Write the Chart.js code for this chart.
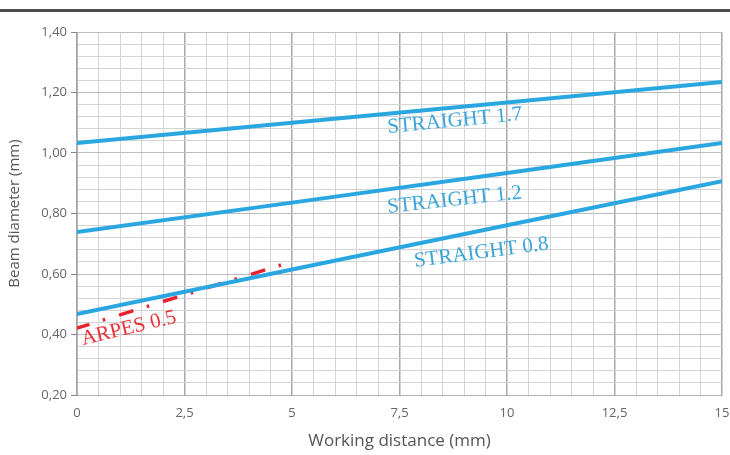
<!DOCTYPE html>
<html>
<head>
<meta charset="utf-8">
<script src="https://cdn.jsdelivr.net/npm/chart.js@4.4.1/dist/chart.umd.min.js"></script>
<style>
  html, body { margin: 0; padding: 0; background: #fff; }
  #wrap { position: relative; width: 730px; height: 455px; }
</style>
</head>
<body>
<div id="wrap"><canvas id="chart" width="730" height="455"></canvas></div>
<script>
"use strict";

// Beam diameter vs working distance, four lens families.
const distances = [0, 5, 10, 15];
const straight17 = [1.033, 1.100, 1.167, 1.235];
const straight12 = [0.739, 0.836, 0.934, 1.033];
const straight08 = [0.468, 0.615, 0.761, 0.907];
const arpesX = [0, 1, 2, 3, 4, 4.82];
const arpesY = [0.421, 0.465, 0.509, 0.553, 0.597, 0.633];

const labels = [
  { text: "STRAIGHT 1.7", x: 7.23, y: 1.066, angle: -5.6, color: "#3aa5d8" },
  { text: "STRAIGHT 1.2", x: 7.23, y: 0.802, angle: -6.2, color: "#3aa5d8" },
  { text: "STRAIGHT 0.8", x: 7.86, y: 0.623, angle: -7.5, color: "#3aa5d8" },
  { text: "ARPES 0.5", x: 0.14, y: 0.365, angle: -13.5, color: "#e8323a" },
];

const BLUE = "#2aa6e0";
const RED = "#e8222c";

function pts(xs, ys) {
  return xs.map((x, i) => ({ x, y: ys[i] }));
}

function comma(v, digits) {
  return v.toFixed(digits).replace(".", ",");
}

const chrome = {
  id: "chrome",
  beforeDraw(chart) {
    const ctx = chart.ctx;
    ctx.save();
    ctx.fillStyle = "#4d4d4d";
    ctx.fillRect(0, 9, chart.width, 3);
    ctx.restore();
  },
  afterDatasetsDraw(chart) {
    const ctx = chart.ctx;
    const xs = chart.scales.x, ys = chart.scales.y;
    ctx.save();
    ctx.font = "21px 'Liberation Serif', 'DejaVu Serif', serif";
    ctx.textBaseline = "alphabetic";
    labels.forEach((l) => {
      ctx.save();
      ctx.translate(xs.getPixelForValue(l.x), ys.getPixelForValue(l.y));
      ctx.rotate(l.angle * Math.PI / 180);
      ctx.fillStyle = l.color;
      ctx.fillText(l.text, 0, 0);
      ctx.restore();
    });
    ctx.restore();
  },
};

function isMajorX(v) { return Math.abs(v / 2.5 - Math.round(v / 2.5)) < 1e-6; }
function isMajorY(v) { return Math.abs(v / 0.2 - Math.round(v / 0.2)) < 1e-6; }

new Chart(document.getElementById("chart"), {
  type: "scatter",
  data: {
    datasets: [
      { label: "STRAIGHT 1.7", data: pts(distances, straight17), showLine: true, borderColor: BLUE,
        borderWidth: 4, pointRadius: 0, tension: 0 },
      { label: "STRAIGHT 1.2", data: pts(distances, straight12), showLine: true, borderColor: BLUE,
        borderWidth: 4, pointRadius: 0, tension: 0 },
      { label: "STRAIGHT 0.8", data: pts(distances, straight08), showLine: true, borderColor: BLUE,
        borderWidth: 4, pointRadius: 0, tension: 0 },
      { label: "ARPES 0.5", data: pts(arpesX, arpesY), showLine: true, borderColor: RED,
        borderWidth: 3.5, borderDash: [15, 14, 2.5, 14.5], borderDashOffset: 2, pointRadius: 0, tension: 0 },
    ],
  },
  options: {
    responsive: false,
    animation: false,
    layout: { padding: { top: 32, right: 8, left: 0, bottom: 0 } },
    plugins: { legend: { display: false }, tooltip: { enabled: false } },
    scales: {
      x: {
        type: "linear", min: 0, max: 15,
        afterFit(s) { s.height = 60; s.paddingRight = 0; s.paddingLeft = 0; },
        ticks: {
          stepSize: 0.5, autoSkip: false, maxRotation: 0, color: "#666", padding: 10,
          font: { family: "'Open Sans', sans-serif", size: 13 },
          callback: (v) => isMajorX(v) ? (Number.isInteger(v) ? String(v) : comma(v, 1)) : "",
        },
        grid: {
          drawTicks: false,
          color: (c) => isMajorX(c.tick.value) ? "#a8a8a8" : "#d4d4d4",
          lineWidth: (c) => isMajorX(c.tick.value) ? 1.5 : 1,
        },
        border: { color: "#b0b0b0" },
        title: { display: true, text: "Working distance (mm)", color: "#555", padding: { top: 0 },
          font: { family: "'Open Sans', sans-serif", size: 17 } },
      },
      y: {
        type: "linear", min: 0.2, max: 1.4,
        afterFit(s) { s.width = 77; s.paddingTop = 0; s.paddingBottom = 0; },
        ticks: {
          stepSize: 0.04, autoSkip: false, color: "#666", padding: 4,
          font: { family: "'Open Sans', sans-serif", size: 13 },
          callback: (v) => isMajorY(v) ? comma(v, 2) : "",
        },
        grid: {
          tickLength: 6,
          color: (c) => isMajorY(c.tick.value) ? "#bcbcbc" : "#d4d4d4",
          tickColor: (c) => isMajorY(c.tick.value) ? "#888" : "rgba(0,0,0,0)",
          lineWidth: 1,
        },
        border: { color: "#b0b0b0" },
        title: { display: true, text: "Beam diameter (mm)", color: "#555", padding: { top: 6, bottom: 0 },
          font: { family: "'Open Sans', sans-serif", size: 15 } },
      },
    },
  },
  plugins: [chrome],
});
</script>
</body>
</html>
